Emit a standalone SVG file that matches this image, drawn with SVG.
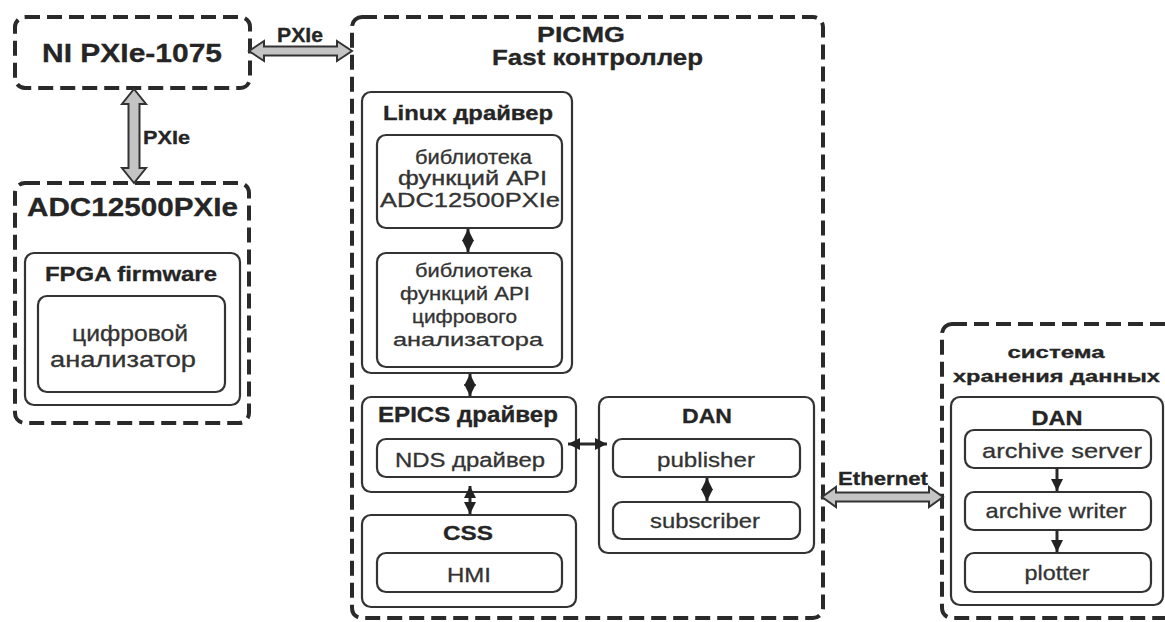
<svg xmlns="http://www.w3.org/2000/svg" width="1165" height="622" viewBox="0 0 1165 622">
<style>
.dash{fill:none;stroke:#2a2a2a;stroke-width:4;stroke-dasharray:15 7}
.box{fill:none;stroke:#333;stroke-width:2.2}
.wide{fill:#c4c4c4;stroke:#333;stroke-width:2;stroke-linejoin:miter}
.ln{stroke:#2a2a2a;stroke-width:3;fill:none}
text{font-family:"Liberation Sans",Arial,sans-serif;fill:#333;text-anchor:middle;stroke:#333;stroke-width:0.3}
.b{font-weight:bold;fill:#252525;stroke:#252525}
</style>
<defs>
<marker id="ah" viewBox="0 0 10 10" refX="10" refY="5" markerWidth="4" markerHeight="4" orient="auto-start-reverse" markerUnits="strokeWidth">
<path d="M0,0 L10,5 L0,10 z" fill="#222"/>
</marker>
</defs>
<rect width="1165" height="622" fill="#fff"/>

<g id="ni">
<rect class="dash" x="15" y="17" width="235" height="71" rx="10"/>
<text class="b" x="132" y="62" font-size="26" textLength="180" lengthAdjust="spacingAndGlyphs">NI PXIe-1075</text>
</g>

<g id="adc">
<rect class="dash" x="15" y="183" width="234" height="240" rx="10"/>
<text class="b" x="132.5" y="216" font-size="25" textLength="211" lengthAdjust="spacingAndGlyphs">ADC12500PXIe</text>
</g>
<g id="fpga">
<rect class="box" x="25" y="253" width="215" height="152" rx="9"/>
<text class="b" x="131" y="281" font-size="20" textLength="172" lengthAdjust="spacingAndGlyphs">FPGA firmware</text>
</g>
<g id="analyzer">
<rect class="box" x="38" y="296" width="187" height="96" rx="9"/>
<text x="130" y="341" font-size="22" textLength="116" lengthAdjust="spacingAndGlyphs">цифровой</text>
<text x="123" y="367" font-size="22" textLength="146" lengthAdjust="spacingAndGlyphs">анализатор</text>
</g>

<g id="picmg">
<rect class="dash" x="352" y="17" width="471" height="601" rx="10"/>
<text class="b" x="581" y="42" font-size="22" textLength="88" lengthAdjust="spacingAndGlyphs">PICMG</text>
<text class="b" x="597.5" y="65" font-size="22" textLength="211" lengthAdjust="spacingAndGlyphs">Fast контроллер</text>
</g>
<g id="linux">
<rect class="box" x="362" y="92" width="210" height="281" rx="9"/>
<text class="b" x="468" y="120" font-size="20" textLength="170" lengthAdjust="spacingAndGlyphs">Linux драйвер</text>
</g>
<g id="lib1">
<rect class="box" x="377" y="135" width="185" height="93" rx="9"/>
<text x="473.5" y="164" font-size="19.5" textLength="117" lengthAdjust="spacingAndGlyphs">библиотека</text>
<text x="472.5" y="185" font-size="19.5" textLength="149" lengthAdjust="spacingAndGlyphs">функций API</text>
<text x="470" y="207" font-size="19.5" textLength="180" lengthAdjust="spacingAndGlyphs">ADC12500PXIe</text>
</g>
<g id="lib2">
<rect class="box" x="377" y="253" width="185" height="114" rx="9"/>
<text x="473.5" y="277" font-size="19" textLength="117" lengthAdjust="spacingAndGlyphs">библиотека</text>
<text x="465" y="300" font-size="19" textLength="130" lengthAdjust="spacingAndGlyphs">функций API</text>
<text x="464.5" y="323" font-size="19" textLength="105" lengthAdjust="spacingAndGlyphs">цифрового</text>
<text x="468" y="346" font-size="19" textLength="150" lengthAdjust="spacingAndGlyphs">анализатора</text>
</g>
<g id="epics">
<rect class="box" x="362" y="397" width="214" height="95" rx="9"/>
<text class="b" x="468" y="422" font-size="22" textLength="180" lengthAdjust="spacingAndGlyphs">EPICS драйвер</text>
</g>
<g id="nds">
<rect class="box" x="377" y="439" width="185" height="38" rx="9"/>
<text x="470" y="467" font-size="20" textLength="150" lengthAdjust="spacingAndGlyphs">NDS драйвер</text>
</g>
<g id="css">
<rect class="box" x="362" y="515" width="214" height="92" rx="9"/>
<text class="b" x="468" y="540" font-size="21" textLength="50" lengthAdjust="spacingAndGlyphs">CSS</text>
</g>
<g id="hmi">
<rect class="box" x="377" y="553" width="185" height="39" rx="9"/>
<text x="469" y="582" font-size="21" textLength="44" lengthAdjust="spacingAndGlyphs">HMI</text>
</g>
<g id="dan1">
<rect class="box" x="599" y="397" width="215" height="156" rx="9"/>
<text class="b" x="707" y="423" font-size="21" textLength="50" lengthAdjust="spacingAndGlyphs">DAN</text>
</g>
<g id="publisher">
<rect class="box" x="613" y="439" width="187" height="38" rx="9"/>
<text x="706" y="467" font-size="21" textLength="98" lengthAdjust="spacingAndGlyphs">publisher</text>
</g>
<g id="subscriber">
<rect class="box" x="613" y="502" width="187" height="37" rx="9"/>
<text x="705" y="528" font-size="21" textLength="110" lengthAdjust="spacingAndGlyphs">subscriber</text>
</g>

<g id="storage">
<rect class="dash" x="942" y="324" width="250" height="294" rx="10"/>
<text class="b" x="1056" y="358" font-size="17" textLength="97" lengthAdjust="spacingAndGlyphs">система</text>
<text class="b" x="1056.5" y="382" font-size="17" textLength="207" lengthAdjust="spacingAndGlyphs">хранения данных</text>
</g>
<g id="dan2">
<rect class="box" x="951" y="397" width="212" height="208" rx="9"/>
<text class="b" x="1057" y="425" font-size="21" textLength="51" lengthAdjust="spacingAndGlyphs">DAN</text>
</g>
<g id="archive-server">
<rect class="box" x="965" y="430" width="186" height="38" rx="9"/>
<text x="1062" y="458" font-size="21" textLength="160" lengthAdjust="spacingAndGlyphs">archive server</text>
</g>
<g id="archive-writer">
<rect class="box" x="965" y="492" width="186" height="38" rx="9"/>
<text x="1056" y="518" font-size="21" textLength="141" lengthAdjust="spacingAndGlyphs">archive writer</text>
</g>
<g id="plotter">
<rect class="box" x="965" y="553" width="186" height="39" rx="9"/>
<text x="1057" y="580" font-size="21" textLength="65" lengthAdjust="spacingAndGlyphs">plotter</text>
</g>

<g id="connectors">
<polygon class="wide" points="249,51 264,41 264,46.5 337,46.5 337,41 352,51 337,61 337,55.5 264,55.5 264,61"/>
<text class="b" x="300" y="42" font-size="20" textLength="46" lengthAdjust="spacingAndGlyphs">PXIe</text>
<polygon class="wide" points="134,89 146,104 139.5,104 139.5,168 146,168 134,183 122,168 128.5,168 128.5,104 122,104"/>
<text class="b" x="166.5" y="144" font-size="19" textLength="47" lengthAdjust="spacingAndGlyphs">PXIe</text>
<polygon class="wide" points="822,497 836,487 836,492.5 929,492.5 929,487 943,497 929,507 929,501.5 836,501.5 836,507"/>
<text class="b" x="883" y="485" font-size="18" textLength="90" lengthAdjust="spacingAndGlyphs">Ethernet</text>
<line class="ln" x1="468" y1="229" x2="468" y2="252" marker-start="url(#ah)" marker-end="url(#ah)"/>
<line class="ln" x1="470" y1="374" x2="470" y2="396" marker-start="url(#ah)" marker-end="url(#ah)"/>
<line class="ln" x1="470" y1="486" x2="470" y2="514" marker-start="url(#ah)" marker-end="url(#ah)"/>
<line class="ln" x1="568" y1="444" x2="607" y2="444" marker-start="url(#ah)" marker-end="url(#ah)"/>
<line class="ln" x1="707" y1="478" x2="707" y2="501" marker-start="url(#ah)" marker-end="url(#ah)"/>
<line class="ln" x1="1057" y1="468" x2="1057" y2="491" marker-end="url(#ah)"/>
<line class="ln" x1="1057" y1="530" x2="1057" y2="552" marker-end="url(#ah)"/>
</g>
</svg>
